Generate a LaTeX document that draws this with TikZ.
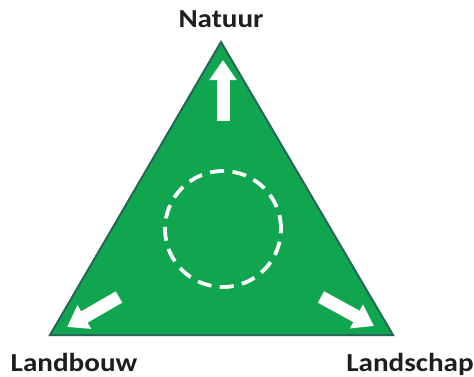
\documentclass[tikz,border=0pt]{standalone}
\usepackage{fontspec}
\setmainfont{Carlito}
\usetikzlibrary{arrows.meta}
\definecolor{trigreen}{RGB}{16,166,80}
\definecolor{triedge}{RGB}{38,102,88}
\definecolor{labeltext}{RGB}{30,30,30}
\tikzset{
  lbl/.style={font=\bfseries\fontsize{26}{30}\selectfont, text=labeltext, inner sep=0pt, anchor=base, xscale=1.12},
  whitearrow/.style={draw=white, line width=13pt, -{Triangle[width=26pt,length=20pt]}},
}
\begin{document}
\begin{tikzpicture}[x=1pt,y=-1pt]
\useasboundingbox (0,0) rectangle (474,376);
\fill[white] (0,0) rectangle (474,376);
\coordinate (top) at (221,42);
\coordinate (bl) at (50,335);
\coordinate (br) at (393,335);
\filldraw[fill=trigreen, draw=triedge, line width=2pt, line join=miter] (top) -- (bl) -- (br) -- cycle;
\node[circle, draw=white, line width=3.8pt, dash pattern=on 14pt off 8.5pt, minimum size=116pt, inner sep=0pt] (ring) at (223,229) {};
\coordinate (upS) at (223,121); \coordinate (upE) at (223,60);
\coordinate (lS) at (119,297); \coordinate (lE) at (67,327);
\coordinate (rS) at (321,297); \coordinate (rE) at (374,326);
\draw[whitearrow] (upS) -- (upE);
\draw[whitearrow] (lS) -- (lE);
\draw[whitearrow] (rS) -- (rE);
\node[lbl] (natuur) at (221,27) {Natuur};
\node[lbl] (landbouw) at (74,371) {Landbouw};
\node[lbl] (landschap) at (410,371) {Landschap};
\end{tikzpicture}
\end{document}
